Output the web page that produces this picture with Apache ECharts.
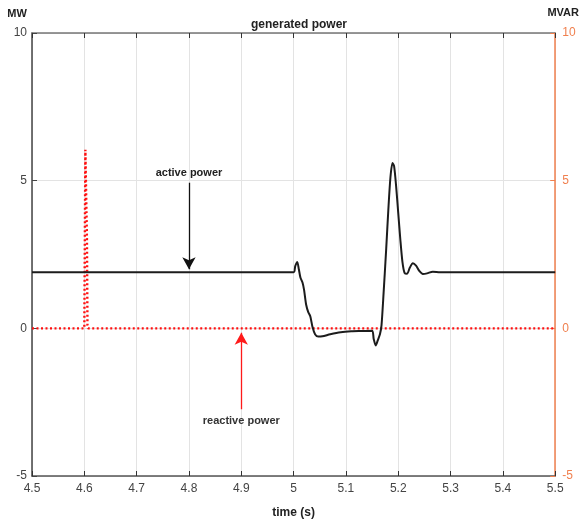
<!DOCTYPE html>
<html>
<head>
<meta charset="utf-8">
<script src="https://cdn.jsdelivr.net/npm/echarts@6/dist/echarts.min.js"></script>
<style>
  html, body { margin: 0; padding: 0; background: #fff; }
  #chart { width: 582px; height: 524px; }
</style>
</head>
<body>
<div id="chart"></div>
<script>
// Time axis (s) and tick settings
const timeRange = [4.5, 5.5];
const timeStep = 0.1;
const powerRange = [-5, 10];
const powerStep = 5;

// Active power (MW) sampled around the disturbance
const activeTime = [4.5, 5.0, 5.003, 5.007, 5.010, 5.013, 5.017, 5.020, 5.024, 5.028, 5.032, 5.036, 5.041, 5.047, 5.055, 5.070, 5.090, 5.110, 5.130, 5.150, 5.153, 5.157, 5.161, 5.165, 5.168, 5.172, 5.177, 5.181, 5.185, 5.189, 5.192, 5.196, 5.200, 5.204, 5.208, 5.212, 5.217, 5.222, 5.228, 5.234, 5.240, 5.247, 5.255, 5.266, 5.280, 5.5];
const activeMW   = [1.9, 1.9, 2.1, 2.25, 2.0, 1.72, 1.55, 1.3, 0.8, 0.55, 0.4, 0.05, -0.2, -0.28, -0.27, -0.2, -0.13, -0.1, -0.09, -0.08, -0.35, -0.58, -0.4, -0.2, 0.1, 1.2, 2.7, 4.0, 5.1, 5.6, 5.5, 4.8, 3.9, 3.0, 2.25, 1.88, 1.85, 2.05, 2.2, 2.12, 1.95, 1.84, 1.86, 1.92, 1.9, 1.9];

// Reactive power (MVAR): flat at zero with a short spike near 4.6 s
const reactiveTime = [4.5, 4.600, 4.601, 4.602, 4.604, 4.605, 4.606, 4.607, 5.5];
const reactiveMVAR = [0, 0, 3.0, 6.05, 6.0, 3.0, 0.1, 0, 0];

// Annotation arrows: [time, from, to]
const activeArrow = [4.8, 4.93, 2.0];
const reactiveArrow = [4.9, -2.74, -0.15];

const pair = (xs, ys) => xs.map((x, i) => [x, ys[i]]);

const font = 'Liberation Sans, Arial, Helvetica, sans-serif';
const orange = '#f0804f';

const chart = echarts.init(document.getElementById('chart'), null, { renderer: 'canvas' });

chart.setOption({
  animation: false,
  backgroundColor: '#ffffff',
  textStyle: { fontFamily: font },
  title: {
    text: 'generated power',
    left: 294,
    textAlign: 'center',
    top: 14,
    textStyle: { fontSize: 12, fontWeight: 'bold', color: '#222', fontFamily: font }
  },
  grid: { left: 32, right: 25, top: 33, bottom: 47 },
  xAxis: [
    {
      type: 'value',
      min: timeRange[0], max: timeRange[1], interval: timeStep,
      name: 'time (s)',
      nameLocation: 'middle',
      nameGap: 31,
      nameTextStyle: { fontSize: 12, fontWeight: 'bold', color: '#222' },
      axisLine: { onZero: false, lineStyle: { color: '#555', width: 1.5 } },
      axisTick: { inside: true, length: 5, lineStyle: { color: '#333' } },
      axisLabel: { fontSize: 12, color: '#444', margin: 7, formatter: v => String(+v.toFixed(1)) },
      splitLine: { show: true, lineStyle: { color: '#e3e3e3', width: 1 } }
    },
    {
      type: 'value', position: 'top',
      min: timeRange[0], max: timeRange[1], interval: timeStep,
      axisLine: { onZero: false, lineStyle: { color: '#777', width: 1.5 } },
      axisTick: { inside: true, length: 5, lineStyle: { color: '#333' } },
      axisLabel: { show: false },
      splitLine: { show: false }
    }
  ],
  yAxis: [
    {
      type: 'value',
      min: powerRange[0], max: powerRange[1], interval: powerStep,
      name: 'MW',
      nameLocation: 'end',
      nameGap: 14,
      nameTextStyle: { fontSize: 11, fontWeight: 'bold', color: '#222', align: 'center', padding: [0, 30, 0, 0] },
      axisLine: { show: true, onZero: false, lineStyle: { color: '#444', width: 1.5 } },
      axisTick: { show: true, inside: true, length: 5, lineStyle: { color: '#444' } },
      axisLabel: { fontSize: 12, color: '#444', margin: 5 },
      splitLine: { show: true, lineStyle: { color: '#e3e3e3', width: 1 } }
    },
    {
      type: 'value', position: 'right',
      min: powerRange[0], max: powerRange[1], interval: powerStep,
      name: 'MVAR',
      nameLocation: 'end',
      nameGap: 15,
      nameTextStyle: { fontSize: 11, fontWeight: 'bold', color: '#222', align: 'center', padding: [0, 0, 0, 16] },
      axisLine: { show: true, onZero: false, lineStyle: { color: orange, width: 1.5 } },
      axisTick: { show: true, inside: true, length: 5, lineStyle: { color: orange } },
      axisLabel: { fontSize: 12, color: orange, margin: 7 },
      splitLine: { show: false }
    }
  ],
  series: [
    {
      name: 'reactive power',
      type: 'line',
      yAxisIndex: 1,
      data: pair(reactiveTime, reactiveMVAR),
      showSymbol: false,
      lineStyle: { color: '#ff1010', width: 2.4, type: [2, 2.5] },
      z: 3,
      markLine: {
        silent: true,
        symbol: ['none', 'arrow'],
        symbolSize: [10, 12],
        lineStyle: { color: '#ff1a1a', width: 1.3, type: 'solid' },
        label: {
          show: true, position: 'start', distance: 6,
          formatter: 'reactive power',
          fontSize: 11, fontWeight: 'bold', color: '#333', fontFamily: font
        },
        data: [[
          { coord: [reactiveArrow[0], reactiveArrow[1]] },
          { coord: [reactiveArrow[0], reactiveArrow[2]] }
        ]]
      }
    },
    {
      name: 'active power',
      type: 'line',
      data: pair(activeTime, activeMW),
      showSymbol: false,
      smooth: 0.25,
      lineStyle: { color: '#1c1c1c', width: 2 },
      z: 4,
      markLine: {
        silent: true,
        symbol: ['none', 'arrow'],
        symbolSize: [10, 12],
        lineStyle: { color: '#111', width: 1.3, type: 'solid' },
        label: {
          show: true, position: 'start', distance: 4,
          formatter: 'active power',
          fontSize: 11, fontWeight: 'bold', color: '#222', fontFamily: font
        },
        data: [[
          { coord: [activeArrow[0], activeArrow[1]] },
          { coord: [activeArrow[0], activeArrow[2]] }
        ]]
      }
    }
  ]
});
</script>
</body>
</html>
